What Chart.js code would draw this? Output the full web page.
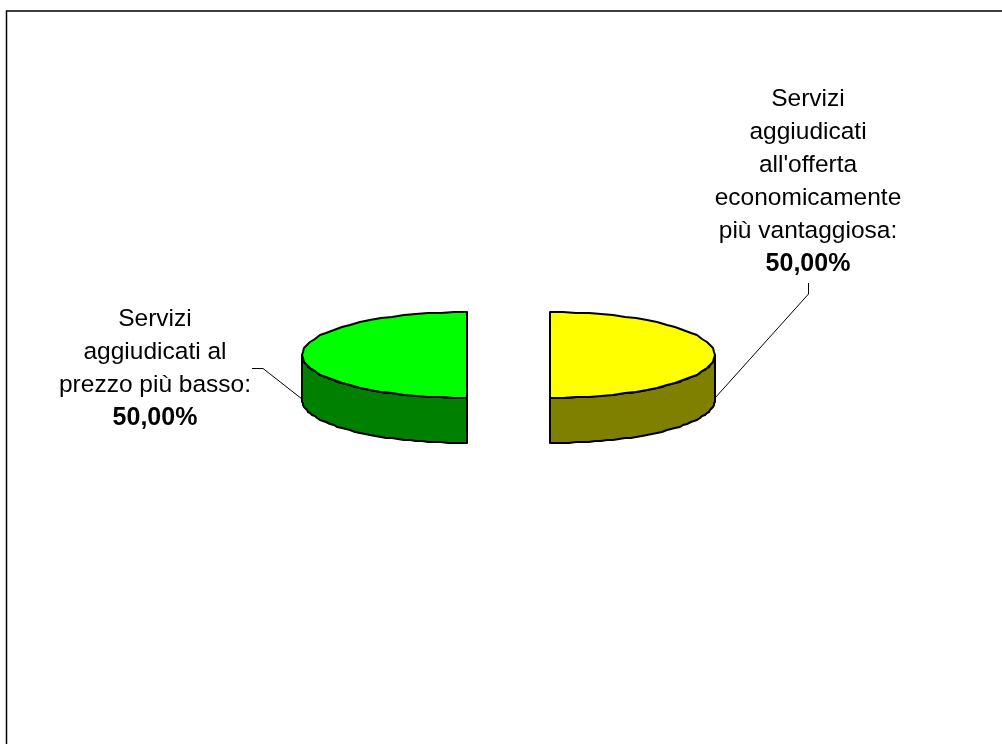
<!DOCTYPE html>
<html>
<head>
<meta charset="utf-8">
<title>Servizi aggiudicati</title>
<script src="https://cdn.jsdelivr.net/npm/chart.js@4"></script>
<style>
  html, body { margin: 0; padding: 0; background: #fff; }
  canvas { display: block; }
</style>
</head>
<body>
<canvas id="pieChart" width="1002" height="744"></canvas>
<script>
const categories = ["Servizi aggiudicati all'offerta economicamente più vantaggiosa", "Servizi aggiudicati al prezzo più basso"];
const values = [50, 50];
const valueLabels = ["50,00%", "50,00%"];
const labelLines = [
    ["Servizi", "aggiudicati", "all'offerta", "economicamente", "più vantaggiosa:"],
    ["Servizi", "aggiudicati al", "prezzo più basso:"]
];
const topColors = ["#ffff00", "#00ff00"];
const wallColors = ["#808000", "#008000"];

const FONT = '"Liberation Sans", Arial, sans-serif';
const SQUASH = 43 / 165;   // flattening of the pie
const DEPTH = 45;          // height of the wall
const CENTER_Y = 355;
const EXPLODE = 41.5;      // gap of each slice from the middle, px
const FACETS = 40;         // the reference outline is a coarse polygon

// where the slice really sits once exploded
function sliceCentre(arc) {
    const mid = (arc.startAngle + arc.endAngle) / 2;
    return {
        x: arc.x + Math.cos(mid) * EXPLODE,
        y: CENTER_Y + Math.sin(mid) * EXPLODE * SQUASH
    };
}

// rim of the ellipse between two angles, snapped to whole pixels
function rimPoints(c, r, from, to, dy) {
    const pts = [];
    for (let i = 0; i <= FACETS; i++) {
        const a = from + (to - from) * i / FACETS;
        pts.push([
            Math.round(c.x + Math.cos(a) * r),
            Math.round(c.y + dy + Math.sin(a) * r * SQUASH)
        ]);
    }
    return pts;
}

function tracePoints(ctx, pts) {
    pts.forEach((p, i) => i ? ctx.lineTo(p[0], p[1]) : ctx.moveTo(p[0], p[1]));
}

function drawFrame(ctx) {
    // only top and left show in the reference
    ctx.save();
    ctx.strokeStyle = "#000";
    ctx.lineWidth = 1.5;
    ctx.beginPath();
    ctx.moveTo(6.5, 744);
    ctx.lineTo(6.5, 11);
    ctx.lineTo(1002, 11);
    ctx.stroke();
    ctx.restore();
}

function drawWall(ctx, arc, color) {
    const c = sliceCentre(arc);
    const r = arc.outerRadius;
    const isRight = Math.cos((arc.startAngle + arc.endAngle) / 2) > 0;
    const a0 = isRight ? 0 : Math.PI;
    const a1 = Math.PI / 2;
    const top = rimPoints(c, r, a0, a1, 0);
    const bottom = rimPoints(c, r, a1, a0, DEPTH);
    ctx.save();
    ctx.beginPath();
    tracePoints(ctx, top.concat(bottom));
    ctx.closePath();
    ctx.fillStyle = color;
    ctx.fill();
    ctx.strokeStyle = "#000";
    ctx.lineWidth = 2;
    ctx.lineJoin = "round";
    ctx.stroke();
    ctx.restore();
}

function drawTop(ctx, arc) {
    const c = sliceCentre(arc);

    // the fill is chart.js's own arc, moved out and flattened
    ctx.save();
    ctx.translate(c.x, c.y);
    ctx.scale(1, SQUASH);
    ctx.translate(-arc.x, -arc.y);
    arc.draw(ctx);
    ctx.restore();

    ctx.save();
    ctx.beginPath();
    tracePoints(ctx, rimPoints(c, arc.outerRadius, arc.startAngle, arc.endAngle, 0));
    ctx.closePath();
    ctx.strokeStyle = "#000";
    ctx.lineWidth = 2;
    ctx.lineJoin = "round";
    ctx.stroke();
    ctx.restore();
}

function drawLabel(ctx, lines, value, x, y) {
    ctx.save();
    ctx.fillStyle = "#000";
    ctx.textAlign = "center";
    ctx.textBaseline = "alphabetic";
    ctx.font = "24.5px " + FONT;
    lines.forEach((line, i) => ctx.fillText(line, x, y + i * 33));
    ctx.font = "bold 25px " + FONT;
    ctx.fillText(value, x, y + lines.length * 33);
    ctx.restore();
}

const pie3d = {
    id: "pie3d",
    beforeDatasetDraw(chart) {
        const ctx = chart.ctx;
        const arcs = chart.getDatasetMeta(0).data;

        drawFrame(ctx);
        arcs.forEach((arc, i) => drawWall(ctx, arc, wallColors[i]));
        arcs.forEach(arc => drawTop(ctx, arc));

        // leader lines
        const right = sliceCentre(arcs[0]);
        const left = sliceCentre(arcs[1]);
        const r = arcs[0].outerRadius;
        ctx.save();
        ctx.strokeStyle = "#000";
        ctx.lineWidth = 1;
        ctx.beginPath();
        ctx.moveTo(right.x + r, CENTER_Y + 43);
        ctx.lineTo(808.5, 294);
        ctx.lineTo(808.5, 283);
        ctx.moveTo(left.x - r, CENTER_Y + 44);
        ctx.lineTo(263, 368.5);
        ctx.lineTo(252, 368.5);
        ctx.stroke();
        ctx.restore();

        drawLabel(ctx, labelLines[0], valueLabels[0], 808, 106);
        drawLabel(ctx, labelLines[1], valueLabels[1], 155, 326);
        return false; // arcs are already drawn
    }
};

new Chart(document.getElementById("pieChart"), {
    type: "pie",
    data: {
        labels: categories,
        datasets: [{
            data: values,
            backgroundColor: topColors,
            borderWidth: 0
        }]
    },
    options: {
        responsive: false,
        animation: false,
        radius: 165,
        layout: { padding: { left: 15, bottom: 34 } },
        plugins: {
            legend: { display: false },
            tooltip: { enabled: false }
        }
    },
    plugins: [pie3d]
});
</script>
</body>
</html>
